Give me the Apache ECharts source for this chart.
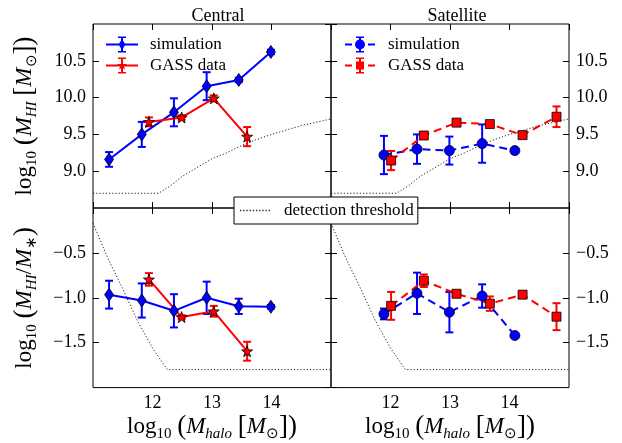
<!DOCTYPE html>
<html><head><meta charset="utf-8">
<script src="https://cdn.jsdelivr.net/npm/echarts@6/dist/echarts.min.js"></script>
<style>html,body{margin:0;padding:0;background:#fff}#c{width:622px;height:443px}</style>
</head><body><div id="c"></div>
<script>
// ---------------- data ----------------
const panelTitles = ['Central', 'Satellite'];
const massTicks = [12, 13, 14];

// Central – simulation
const cenSimMass   = [11.27, 11.82, 12.36, 12.91, 13.45, 13.99];
const cenSimMHI    = [9.16, 9.50, 9.80, 10.155, 10.24, 10.62];
const cenSimMHIErr = [0.10, 0.17, 0.19, 0.19, 0.03, 0.03];
const cenSimFrac    = [-0.965, -1.03, -1.145, -1.00, -1.095, -1.10];
const cenSimFracErr = [0.155, 0.19, 0.185, 0.18, 0.085, 0.02];
// Central – GASS
const cenGassMass   = [11.94, 12.49, 13.03, 13.59];
const cenGassMHI    = [9.67, 9.73, 9.99, 9.47];
const cenGassMHIErr = [0.06, 0.03, 0.04, 0.13];
const cenGassFrac    = [-0.795, -1.215, -1.15, -1.595];
const cenGassFracErr = [0.07, 0.02, 0.06, 0.105];
// Satellite – simulation
const satSimMass   = [11.89, 12.445, 12.99, 13.54, 14.09];
const satSimMHI    = [9.22, 9.30, 9.28, 9.375, 9.28];
const satSimMHIErr = [0.26, 0.20, 0.19, 0.26, 0];
const satSimFrac    = [-1.18, -0.95, -1.16, -0.98, -1.42];
const satSimFracErr = [0.06, 0.23, 0.225, 0.13, 0];
// Satellite – GASS
const satGassMass   = [12.01, 12.56, 13.11, 13.67, 14.22, 14.79];
const satGassMHI    = [9.145, 9.485, 9.66, 9.64, 9.49, 9.74];
const satGassMHIErr = [0.13, 0.03, 0.02, 0.03, 0.02, 0.14];
const satGassFrac    = [-1.09, -0.81, -0.955, -1.065, -0.965, -1.21];
const satGassFracErr = [0.155, 0.07, 0.02, 0.08, 0.02, 0.15];
// detection threshold
const threshMassTop = [11, 12.1, 12.3, 12.5, 12.75, 13.0, 13.25, 13.5, 13.75, 14.0, 14.5, 15.0];
const threshMHI     = [8.70, 8.70, 8.80, 8.93, 9.05, 9.17, 9.25, 9.35, 9.43, 9.50, 9.62, 9.71];
const threshMassBot = [11, 11.25, 11.5, 11.75, 12.0, 12.25, 15.0];
const threshFrac    = [-0.17, -0.56, -0.90, -1.26, -1.56, -1.80, -1.80];

// ---------------- styling / build ----------------
const FONT = 'Liberation Serif';
const BLUE = '#0000ff', RED = '#ff0000';
const pts = (xs, ys) => xs.map((x, i) => [x, ys[i]]);
const STAR = 'path://M0,-10L2.35,-3.24L9.51,-3.09L3.8,1.24L5.88,8.09L0,4L-5.88,8.09L-3.8,1.24L-9.51,-3.09L-2.35,-3.24Z';

const grids = [
  {left: 93, top: 24, width: 238, height: 184},
  {left: 331, top: 24, width: 238, height: 184},
  {left: 93, top: 208, width: 238, height: 184},
  {left: 331, top: 208, width: 238, height: 184}
].map(g => Object.assign(g, {show: true, borderColor: '#000', borderWidth: 1, backgroundColor: 'transparent'}));

const rich = {
  n: {fontFamily: FONT, fontSize: 23, lineHeight: 30, color: '#000'},
  p: {fontFamily: FONT, fontSize: 27, lineHeight: 30, color: '#000'},
  i: {fontFamily: FONT, fontSize: 23, fontStyle: 'italic', lineHeight: 30, color: '#000'},
  s: {fontFamily: FONT, fontSize: 15, lineHeight: 15, verticalAlign: 'bottom', color: '#000'},
  si: {fontFamily: FONT, fontSize: 15, fontStyle: 'italic', lineHeight: 15, verticalAlign: 'bottom', color: '#000'}
};
const xName = '{n|log}{s|10}{n| }{p|(}{i|M}{si|halo}{n| }{p|[}{i|M}{s|⊙}{p|])}';
const yNameTop = '{n|log}{s|10}{n| }{p|(}{i|M}{si|HI}{n| }{p|[}{i|M}{s|⊙}{p|])}';
const yNameBot = '{n|log}{s|10}{n| }{p|(}{i|M}{si|HI}{n|/}{i|M}{s|∗}{p|)}';

const tick = {show: true, inside: true, length: 6, lineStyle: {color: '#000', width: 1}};
const lbl = (show, fmt) => ({show, margin: 7, fontFamily: FONT, fontSize: 18, color: '#000',
  showMinLabel: false, showMaxLabel: false, formatter: fmt});
const fmtX = v => String(v);
const fmtY = v => v.toFixed(1).replace('-', '\u2212');

const xAxis = [], yAxis = [];
for (let g = 0; g < 4; g++) {
  const bottomRow = g >= 2;
  const xb = {type: 'value', gridIndex: g, position: 'bottom', min: 11, max: 15, interval: 1,
    axisLine: {show: false}, splitLine: {show: false}, axisTick: tick, axisLabel: lbl(bottomRow, fmtX)};
  if (bottomRow) Object.assign(xb, {name: xName, nameLocation: 'middle', nameGap: 24,
    nameTextStyle: {rich, fontFamily: FONT, fontSize: 23}});
  xAxis.push(xb);
  xAxis.push({type: 'value', gridIndex: g, position: 'top', min: 11, max: 15, interval: 1,
    axisLine: {show: false}, splitLine: {show: false}, axisTick: tick, axisLabel: {show: false}});
  const ymin = bottomRow ? -2 : 8.5, ymax = bottomRow ? 0 : 11;
  const leftLabels = (g % 2 === 0);
  const yl = {type: 'value', gridIndex: g, position: 'left', min: ymin, max: ymax, interval: 0.5,
    axisLine: {show: false}, splitLine: {show: false}, axisTick: tick, axisLabel: lbl(leftLabels, fmtY)};
  if (leftLabels) Object.assign(yl, {name: bottomRow ? yNameBot : yNameTop, nameLocation: 'middle', nameGap: 53,
    nameTextStyle: {rich, fontFamily: FONT, fontSize: 23}});
  const yr = {type: 'value', gridIndex: g, position: 'right', min: ymin, max: ymax, interval: 0.5,
    axisLine: {show: false}, splitLine: {show: false}, axisTick: tick, axisLabel: lbl(!leftLabels, fmtY)};
  yAxis.push(yl, yr);
}

function errSeries(g, xs, ys, es, color) {
  return {type: 'custom', xAxisIndex: 2 * g, yAxisIndex: 2 * g, z: 3, silent: true,
    data: xs.map((x, i) => [x, ys[i], es[i]]), encode: {x: 0, y: 1},
    renderItem(params, api) {
      const x = api.value(0), y = api.value(1), e = api.value(2);
      if (!e) return null;
      const a = api.coord([x, y + e]), b = api.coord([x, y - e]);
      const w = 4, st = {stroke: color, lineWidth: 2};
      return {type: 'group', children: [
        {type: 'line', shape: {x1: a[0], y1: a[1], x2: b[0], y2: b[1]}, style: st},
        {type: 'line', shape: {x1: a[0] - w, y1: a[1], x2: a[0] + w, y2: a[1]}, style: st},
        {type: 'line', shape: {x1: b[0] - w, y1: b[1], x2: b[0] + w, y2: b[1]}, style: st}]};
    }};
}
function lineSeries(g, name, xs, ys, color, symbol, size, dashed) {
  return {type: 'line', name, xAxisIndex: 2 * g, yAxisIndex: 2 * g, z: 4, silent: true,
    data: pts(xs, ys), symbol, symbolSize: size, showSymbol: true,
    lineStyle: {color, width: 2, type: dashed ? [8, 5] : 'solid'},
    itemStyle: {color, borderColor: '#000', borderWidth: 0.8}};
}
function threshSeries(g, xs, ys) {
  return {type: 'line', name: 'detection threshold', xAxisIndex: 2 * g, yAxisIndex: 2 * g, z: 1, silent: true,
    data: pts(xs, ys), symbol: 'none', lineStyle: {color: '#222', width: 1, type: [1.2, 2]},
    itemStyle: {color: '#222'}};
}

const series = [
  threshSeries(0, threshMassTop, threshMHI),
  threshSeries(1, threshMassTop, threshMHI),
  threshSeries(2, threshMassBot, threshFrac),
  threshSeries(3, threshMassBot, threshFrac),
  errSeries(0, cenSimMass, cenSimMHI, cenSimMHIErr, BLUE),
  errSeries(0, cenGassMass, cenGassMHI, cenGassMHIErr, RED),
  lineSeries(0, 'simulation', cenSimMass, cenSimMHI, BLUE, 'diamond', [9, 13], false),
  lineSeries(0, 'GASS data', cenGassMass, cenGassMHI, RED, STAR, 11, false),
  errSeries(2, cenSimMass, cenSimFrac, cenSimFracErr, BLUE),
  errSeries(2, cenGassMass, cenGassFrac, cenGassFracErr, RED),
  lineSeries(2, 'simulation', cenSimMass, cenSimFrac, BLUE, 'diamond', [9, 13], false),
  lineSeries(2, 'GASS data', cenGassMass, cenGassFrac, RED, STAR, 11, false),
  errSeries(1, satSimMass, satSimMHI, satSimMHIErr, BLUE),
  errSeries(1, satGassMass, satGassMHI, satGassMHIErr, RED),
  lineSeries(1, 'simulation', satSimMass, satSimMHI, BLUE, 'circle', 10, true),
  lineSeries(1, 'GASS data', satGassMass, satGassMHI, RED, 'rect', 9, true),
  errSeries(3, satSimMass, satSimFrac, satSimFracErr, BLUE),
  errSeries(3, satGassMass, satGassFrac, satGassFracErr, RED),
  lineSeries(3, 'simulation', satSimMass, satSimFrac, BLUE, 'circle', 10, true),
  lineSeries(3, 'GASS data', satGassMass, satGassFrac, RED, 'rect', 9, true)
];

// legend glyphs: line + errorbar + marker
const EB = 'M15 1H17V17H15Z M12 1H20V2.5H12Z M12 15.5H20V17H12Z';
const icSimC = 'path://M0 8H32V10H0Z ' + EB + ' M16 3.5L19.5 9L16 14.5L12.5 9Z';
const icGassC = 'path://M0 8H32V10H0Z ' + EB + ' M16 4L17.18 7.38L20.76 7.45L17.9 9.62L18.94 13.05L16 11L13.06 13.05L14.1 9.62L11.24 7.45L14.82 7.38Z';
const EB2 = 'M14 1H16V17H14Z M11 1H19V2.5H11Z M11 15.5H19V17H11Z';
const icSimS = 'path://M0 8H7V10H0Z M23 8H30V10H23Z ' + EB2 + ' M10 9A5 5 0 1 1 20 9A5 5 0 1 1 10 9Z';
const icGassS = 'path://M0 8H7V10H0Z M23 8H30V10H23Z ' + EB2 + ' M11 5H19V13H11Z';
let dots = 'path://';
for (let k = 0; k < 10; k++) dots += 'M' + (3 * k) + ' 0H' + (3 * k + 1.2) + 'V1.2H' + (3 * k) + 'Z ';

const legTxt = {fontFamily: FONT, fontSize: 17, color: '#000', padding: [0, 0, 0, 7]};
const option = {
  animation: false,
  backgroundColor: '#fff',
  title: [
    {text: panelTitles[0], left: 213, top: 2, textAlign: 'center', textStyle: {fontFamily: FONT, fontSize: 18, fontWeight: 'normal', color: '#000'}},
    {text: panelTitles[1], left: 452, top: 2, textAlign: 'center', textStyle: {fontFamily: FONT, fontSize: 18, fontWeight: 'normal', color: '#000'}}
  ],
  legend: [
    {data: [{name: 'simulation', icon: icSimC}, {name: 'GASS data', icon: icGassC}], orient: 'vertical',
      left: 106, top: 36, itemWidth: 32, itemHeight: 16, itemGap: 4, padding: 0, selectedMode: false,
      itemStyle: {borderWidth: 0}, textStyle: legTxt},
    {data: [{name: 'simulation', icon: icSimS}, {name: 'GASS data', icon: icGassS}], orient: 'vertical',
      left: 345, top: 36, itemWidth: 30, itemHeight: 16, itemGap: 4, padding: 0, selectedMode: false,
      itemStyle: {borderWidth: 0}, textStyle: Object.assign({}, legTxt, {padding: [0, 0, 0, 8]})},
    {data: [{name: 'detection threshold', icon: dots}], left: 234, top: 197, itemWidth: 30, itemHeight: 14, padding: [5, 4, 5, 6],
      backgroundColor: '#fff', borderColor: '#000', borderWidth: 1, borderRadius: 0, selectedMode: false,
      itemStyle: {color: '#222', borderWidth: 0},
      textStyle: Object.assign({}, legTxt, {padding: [0, 0, 0, 9]})}
  ],
  grid: grids,
  xAxis, yAxis, series
};
const chart = echarts.init(document.getElementById('c'), null, {renderer: 'canvas'});
chart.setOption(option);
</script></body></html>
